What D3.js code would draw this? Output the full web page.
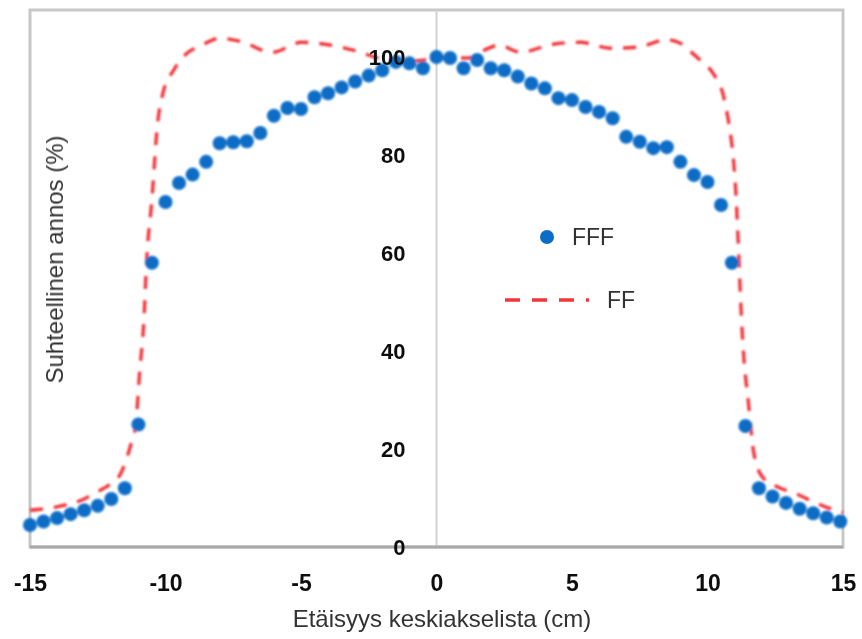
<!DOCTYPE html>
<html>
<head>
<meta charset="utf-8">
<script src="https://cdn.jsdelivr.net/npm/d3@7"></script>
<style>
  html, body { margin: 0; padding: 0; background: #fff; }
  svg { display: block; }
  text { font-family: "Liberation Sans", Arial, sans-serif; }
</style>
</head>
<body>
<svg id="chart" width="862" height="639"></svg>
<script>
// ---- Data ----
const fffX = [-15, -14.5, -14, -13.5, -13, -12.5, -12, -11.5, -11, -10.5,
  -10, -9.5, -9, -8.5, -8, -7.5, -7, -6.5, -6, -5.5, -5, -4.5, -4, -3.5, -3, -2.5, -2, -1.5, -1, -0.5,
  0, 0.5, 1, 1.5, 2, 2.5, 3, 3.5, 4, 4.5, 5, 5.5, 6, 6.5, 7, 7.5, 8, 8.5, 9, 9.5, 10, 10.5,
  10.9, 11.4, 11.9, 12.4, 12.9, 13.4, 13.9, 14.4, 14.9];
const fffY = [4.5, 5.2, 5.9, 6.7, 7.5, 8.4, 9.8, 12, 25, 58,
  70.4, 74.3, 76, 78.6, 82.4, 82.6, 82.8, 84.5, 88, 89.6, 89.4, 91.8, 92.6, 93.8, 95, 96.2, 97.3, 99, 98.7, 97.7,
  100, 99.8, 97.7, 99.4, 97.7, 97.3, 96, 94.6, 93.6, 91.6, 91.2, 89.8, 88.8, 87.5, 83.7, 82.7, 81.4, 81.6, 78.6, 75.9, 74.5, 69.8,
  58, 24.7, 12, 10.3, 9, 7.8, 6.9, 6, 5.2];

const ffX = [-15, -14, -13, -12.5, -12, -11.7, -11.5, -11.3, -11.1, -10.95, -10.8, -10.7, -10.5, -10.3, -10.1,
  -9.7, -9.2, -8.7, -8, -7.5, -7, -6.5, -6, -5.5, -5, -4, -3, -2, -1, 0, 0.5, 1.2, 1.8, 2.3, 3.1, 4.3, 5.3,
  6.4, 7.4, 8.5, 9, 9.4, 9.8, 10.2, 10.6, 10.8, 10.95, 11.05, 11.15, 11.25, 11.35, 11.5, 11.7, 12, 12.5, 13.2, 14.3, 15];
const ffY = [7.5, 8.2, 9.8, 11.3, 13, 14.5, 17, 20.5, 25, 36, 46, 58, 71, 86, 92.5,
  97.3, 100.8, 102.3, 103.8, 103.5, 102.8, 101.5, 101, 102, 103, 102.5, 101.3, 99.6, 99.2, 99.6, 99.8, 99.8, 101.5, 102.4, 101, 102.6, 103,
  101.8, 102, 103.5, 102.8, 101, 99, 96.7, 91.8, 86, 79.5, 72, 60, 47, 38, 30, 19.5, 14.5, 12.5, 11, 8.3, 7];

const xTicks = [-15, -10, -5, 0, 5, 10, 15];
const yTicks = [0, 20, 40, 60, 80, 100];
const seriesNames = ["FFF", "FF"];
const xTitle = "Etäisyys keskiakselista (cm)";
const yTitle = "Suhteellinen annos (%)";

// ---- Layout ----
const svg = d3.select("#chart");
const x = d3.scaleLinear().domain([-15, 15]).range([30, 843]);
const y = d3.scaleLinear().domain([0, 110]).range([547, 8]);
const blue = "#0a6dc6";
const red = "#f2353b";

const defs = svg.append("defs");
defs.append("filter").attr("id", "soft").attr("x", "-5%").attr("y", "-5%").attr("width", "110%").attr("height", "110%")
  .append("feGaussianBlur").attr("stdDeviation", 1.0);
defs.append("filter").attr("id", "softText")
  .append("feGaussianBlur").attr("stdDeviation", 0.55);

// Frame
svg.append("rect")
  .attr("x", 30).attr("y", 10).attr("width", 813).attr("height", 537)
  .attr("fill", "#fff").attr("stroke", "#c8c8c8").attr("stroke-width", 3);

// Vertical axis line at x=0
svg.append("line")
  .attr("x1", x(0)).attr("x2", x(0)).attr("y1", 10).attr("y2", y(0))
  .attr("stroke", "#d2d2d2").attr("stroke-width", 2);

// Bottom axis line
svg.append("line")
  .attr("x1", 30).attr("x2", 843).attr("y1", y(0)).attr("y2", y(0))
  .attr("stroke", "#a8a8a8").attr("stroke-width", 3);

const plot = svg.append("g").attr("filter", "url(#soft)");

// FF dashed line
const ffData = ffX.map((d, i) => [d, ffY[i]]);
plot.append("path")
  .datum(ffData)
  .attr("fill", "none")
  .attr("stroke", red)
  .attr("stroke-width", 3.4)
  .attr("stroke-dasharray", "13,11")
  .attr("d", d3.line().x(d => x(d[0])).y(d => y(d[1])).curve(d3.curveMonotoneX));

// FFF markers
const fffData = fffX.map((d, i) => [d, fffY[i]]);
plot.append("g").selectAll("circle")
  .data(fffData)
  .join("circle")
  .attr("cx", d => x(d[0]))
  .attr("cy", d => y(d[1]))
  .attr("r", 7)
  .attr("fill", blue);

const txt = svg.append("g").attr("filter", "url(#softText)");

// Y axis (labels only)
const yAxis = txt.append("g")
  .attr("transform", `translate(${x(0)},0)`)
  .call(d3.axisLeft(y).tickValues(yTicks).tickSize(0).tickPadding(31));
yAxis.select(".domain").remove();
yAxis.selectAll("text")
  .attr("font-size", 22).attr("font-weight", "bold").attr("fill", "#111")
  .style("font-family", '"Liberation Sans", Arial, sans-serif');

// X axis (labels only)
const xAxis = txt.append("g")
  .attr("transform", `translate(0,${y(0)})`)
  .call(d3.axisBottom(x).tickValues(xTicks).tickSize(0).tickPadding(28)
    .tickFormat(d => d < 0 ? "-" + Math.abs(d) : String(d)));
xAxis.select(".domain").remove();
xAxis.selectAll("text")
  .attr("font-size", 23).attr("font-weight", "bold").attr("fill", "#111")
  .style("font-family", '"Liberation Sans", Arial, sans-serif');

// Axis titles
txt.append("text")
  .attr("x", 442).attr("y", 627)
  .attr("text-anchor", "middle")
  .attr("font-size", 24).attr("fill", "#333")
  .text(xTitle);

txt.append("text")
  .attr("transform", "translate(63,259.5) rotate(-90)")
  .attr("text-anchor", "middle")
  .attr("font-size", 24).attr("fill", "#333")
  .text(yTitle);

// Legend
const lg = svg.append("g").attr("filter", "url(#softText)");
lg.append("circle").attr("cx", 547).attr("cy", 237).attr("r", 7).attr("fill", blue);
lg.append("text").attr("x", 572).attr("y", 237).attr("dy", "0.36em")
  .attr("font-size", 23).attr("fill", "#333").text(seriesNames[0]);
lg.append("line").attr("x1", 505).attr("x2", 589).attr("y1", 300).attr("y2", 300)
  .attr("stroke", red).attr("stroke-width", 3.4).attr("stroke-dasharray", "15,12");
lg.append("text").attr("x", 607).attr("y", 300).attr("dy", "0.36em")
  .attr("font-size", 23).attr("fill", "#333").text(seriesNames[1]);
</script>
</body>
</html>
